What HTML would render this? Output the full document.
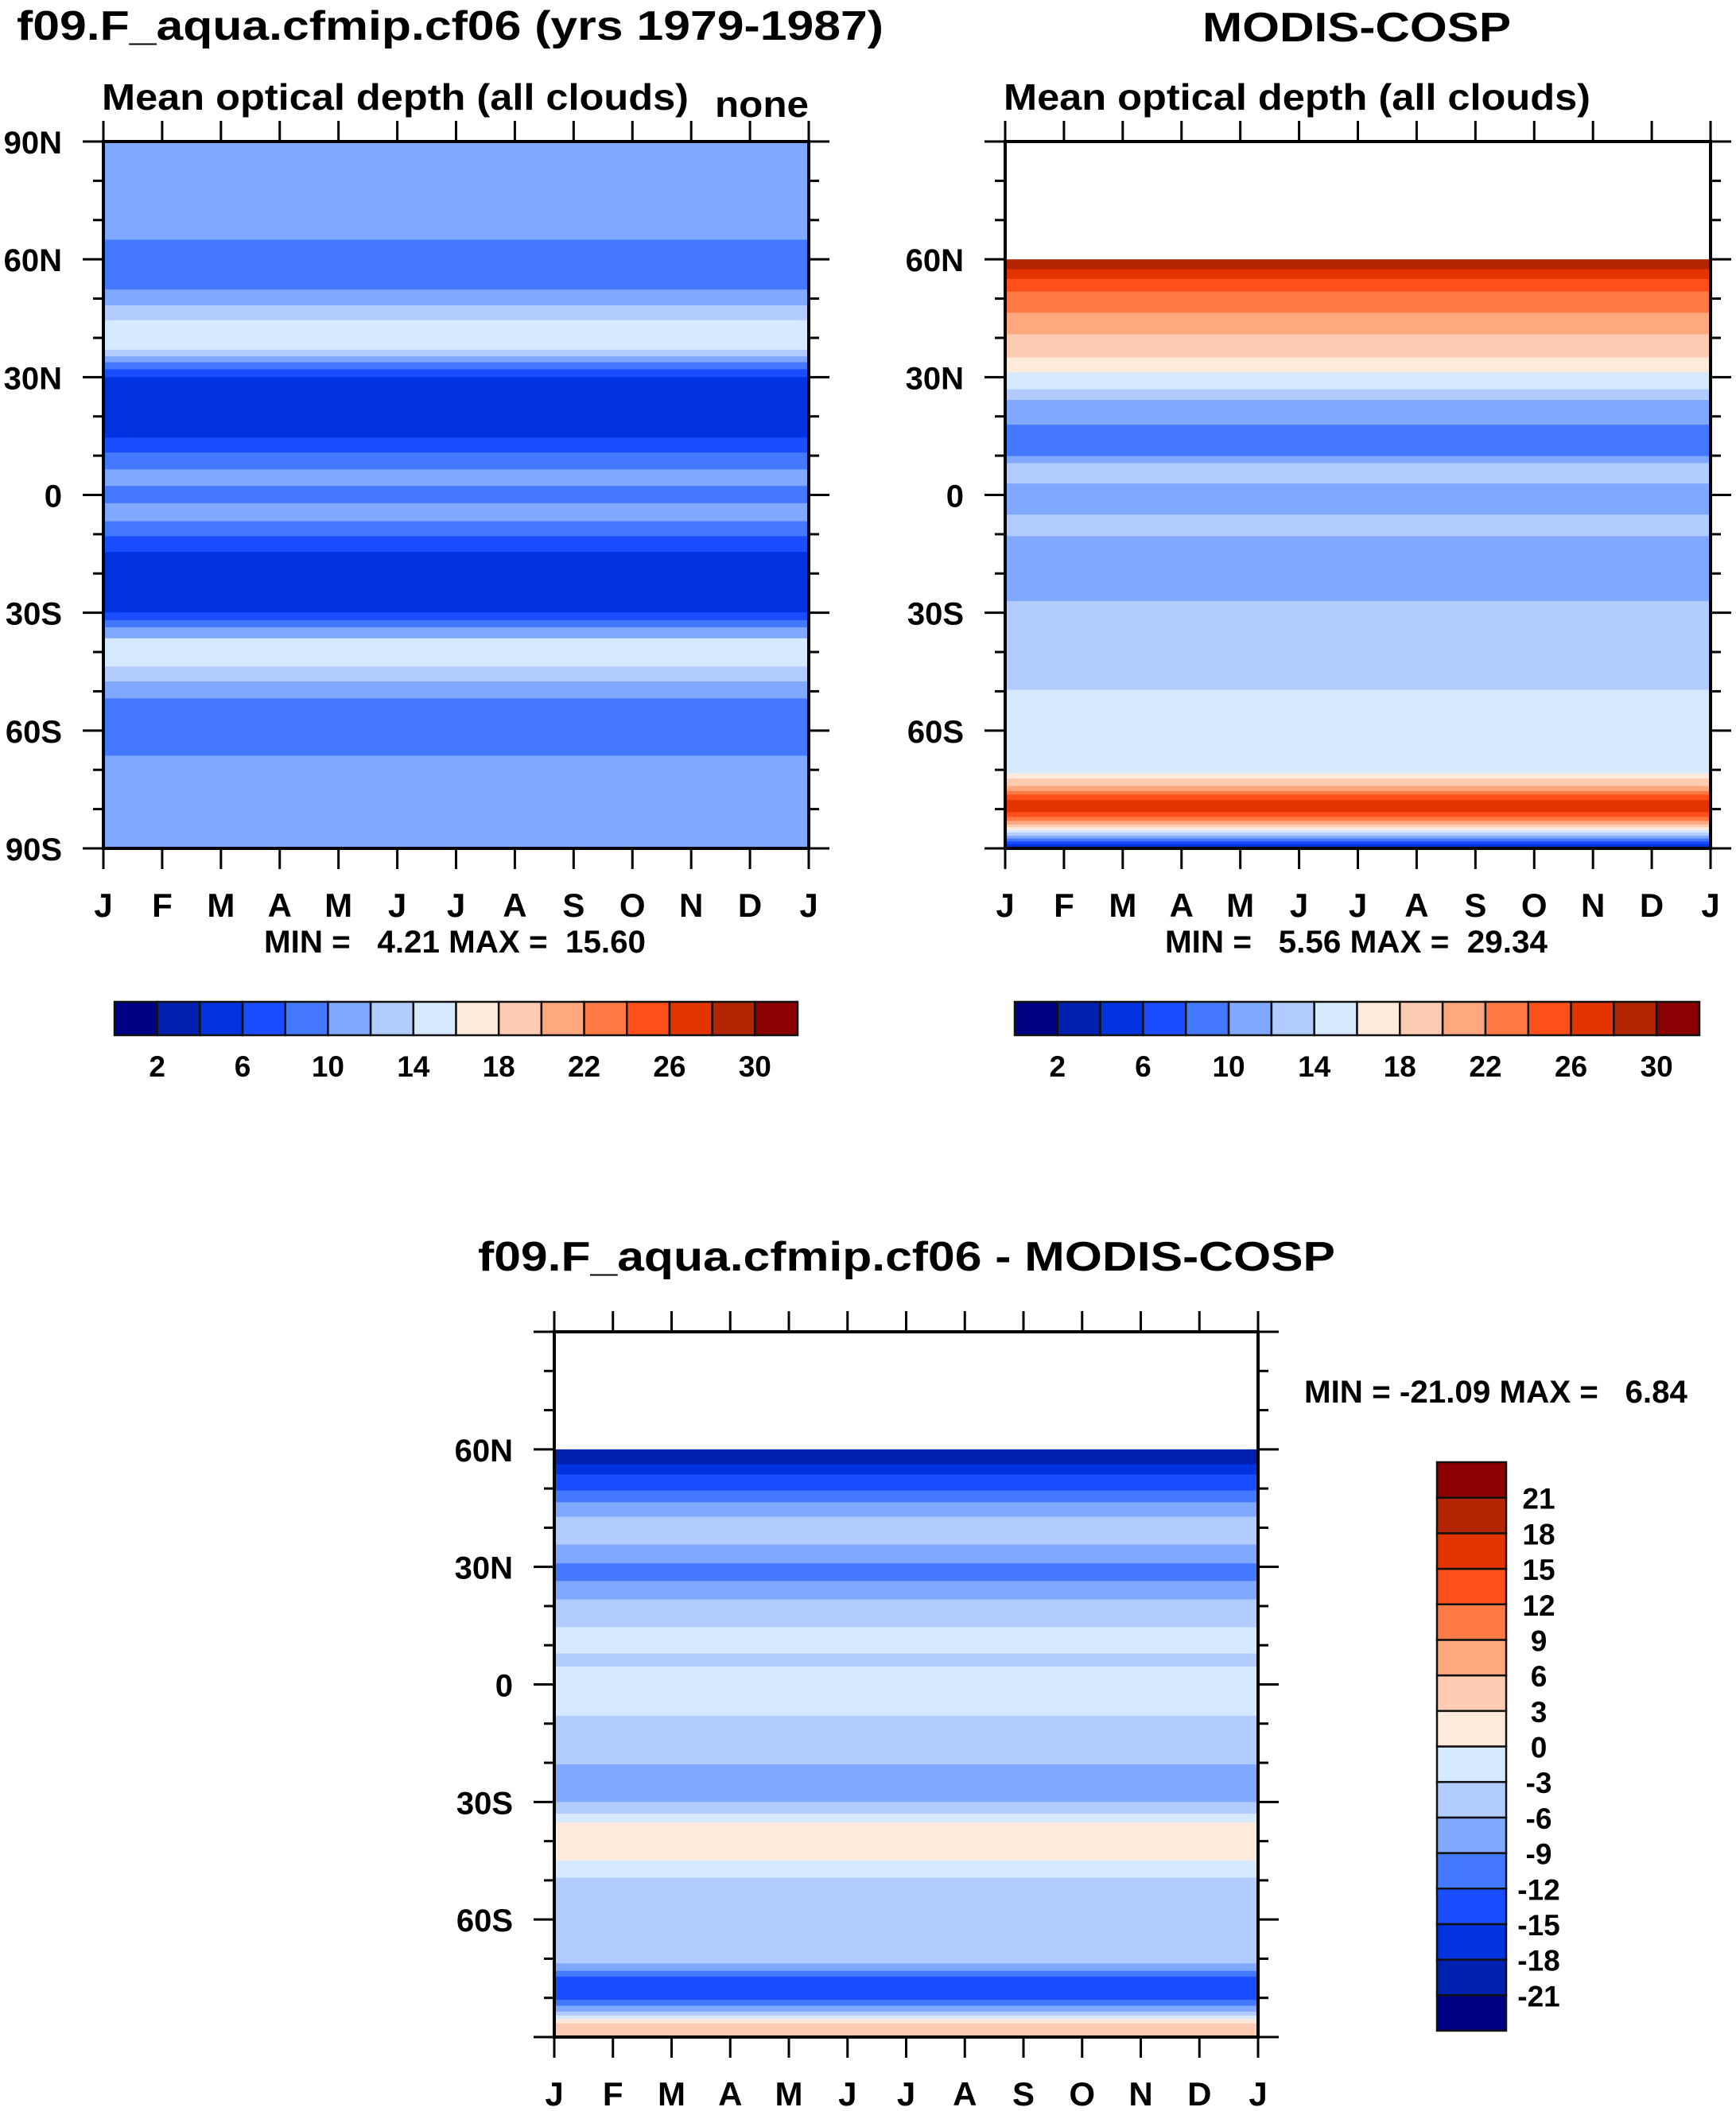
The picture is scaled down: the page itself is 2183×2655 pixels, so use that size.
<!DOCTYPE html>
<html><head><meta charset="utf-8">
<style>
html,body{margin:0;padding:0;background:#fff;}
svg{display:block;font-family:"Liberation Sans",Arial,sans-serif;font-weight:bold;white-space:pre;}
</style></head>
<body>
<svg id="fig" width="2183" height="2655" viewBox="0 0 2183 2655" xmlns="http://www.w3.org/2000/svg"></svg>
<script>
// ---- palette (16 colours) ----
const palette = ["#000085","#0020b0","#0033e0","#1a4dff","#4479ff","#80a8ff","#b3ccff","#d6eaff","#ffeadb","#ffccb3","#ffa880","#ff7a45","#ff4f1a","#e33400","#b32400","#8b0000"];
const levelsAbs = [2,4,6,8,10,12,14,16,18,20,22,24,26,28,30];
const levelsDiff = [-21,-18,-15,-12,-9,-6,-3,0,3,6,9,12,15,18,21];
const cbLabelsAbs = ["2","6","10","14","18","22","26","30"];
const cbLabelsDiff = ["-21","-18","-15","-12","-9","-6","-3","0","3","6","9","12","15","18","21"];
const months = ["J","F","M","A","M","J","J","A","S","O","N","D","J"];
// ---- panel 1: model, band edges (lat, north->south) and values ----
const p1Edges = [90,80,65,52.3,48.3,44.5,37,35.3,33.8,32,30,14.6,10.8,6.5,2.3,-2.1,-6.7,-10.5,-14.5,-29.9,-31.9,-33.7,-36.5,-43.7,-47.5,-51.8,-66.4,-90];
const p1Values = [11.5,11,9,11,13,15,13,11,9,7,5,7,9,11,9,11,9,7,5,7,9,11,15,13,11,9,11];
// ---- panel 2: MODIS ----
const p2Edges = [60,57.5,55,51.8,46.4,40.9,35,31.2,26.9,24.2,17.9,9.9,8.1,2.9,-5,-10.5,-27,-49.6,-70.9,-72.2,-74.1,-75.4,-76.3,-77.7,-80.8,-82,-83,-83.9,-84.6,-85.3,-86,-86.8,-87.5,-88.2,-88.9,-90];
const p2Values = [29,27,25,23,21,19,17,15,13,11,9,11,13,11,13,11,13,15,17,19,21,23,25,27,25,23,21,19,17,15,13,11,9,7,5];
// ---- panel 3: difference ----
const p3Edges = [60,56.2,53.6,49.5,46.5,42.8,35.7,30.9,26.4,21.7,14.6,7.9,4.6,-8,-20.4,-30,-33,-35.2,-44.9,-49.3,-71.2,-73.1,-74.6,-80.5,-82,-83.5,-84.5,-85.4,-86.5,-90];
const p3Values = [-20,-17,-14,-11,-8,-5,-8,-11,-8,-5,-2,-5,-2,-5,-8,-5,-2,1.5,-2,-5,-8,-11,-14,-11,-8,-5,-2,1.5,4.5];

const NS="http://www.w3.org/2000/svg";
const NB="\u00a0";
const svg=document.getElementById('fig');
function el(tag,attrs,parent){const e=document.createElementNS(NS,tag);for(const k in attrs)e.setAttribute(k,attrs[k]);(parent||svg).appendChild(e);return e;}
function txt(s,x,y,size,anchor,parent,len){const t=el('text',{x:x,y:y,'font-size':size,'text-anchor':anchor||'middle',fill:'#000'},parent);if(len){t.setAttribute('textLength',len);t.setAttribute('lengthAdjust','spacingAndGlyphs');}t.textContent=s;return t;}
function colorFor(v,levels){let i=0;while(i<levels.length&&v>=levels[i])i++;return palette[i];}

function panel(name,X0,X1,Y0,Y1,edges,vals,levels,yLabs){
  const g=el('g',{});
  
  
  const ys=lat=>Y0+(90-lat)/180*(Y1-Y0);
  const xs=m=>X0+m/12*(X1-X0);
  for(let i=0;i<vals.length;i++){
    const r=el('rect',{x:X0,y:ys(edges[i]),width:X1-X0,height:ys(edges[i+1])-ys(edges[i])+0.6,fill:colorFor(vals[i],levels)},g);
    
    
  }
  el('rect',{x:X0,y:Y0,width:X1-X0,height:Y1-Y0,fill:'none',stroke:'#000','stroke-width':4},g);
  for(let lat=-90;lat<=90;lat+=10){
    const y=ys(lat);const major=lat%30===0;const L=major?26:13;
    el('line',{x1:X0-L,y1:y,x2:X0,y2:y,stroke:'#000','stroke-width':3},g);
    el('line',{x1:X1,y1:y,x2:X1+L,y2:y,stroke:'#000','stroke-width':3},g);
  }
  for(let m=0;m<=12;m++){
    const x=xs(m);
    el('line',{x1:x,y1:Y0-26,x2:x,y2:Y0,stroke:'#000','stroke-width':3},g);
    el('line',{x1:x,y1:Y1,x2:x,y2:Y1+26,stroke:'#000','stroke-width':3},g);
    const t=txt(months[m],x,Y1+86,42,'middle',g);
    
    
  }
  yLabs.forEach(l=>{const lat=l==="0"?0:(parseInt(l)*(l.endsWith('S')?-1:1));
    const t=txt(l,X0-52,ys(lat)+15,40,'end',g);
    
    });
}
function hbar(name,X0,X1,Y0,Y1,labels,every){
  const g=el('g',{});
  
  
  const w=(X1-X0)/16;
  for(let i=0;i<16;i++){const r=el('rect',{x:X0+i*w,y:Y0,width:w,height:Y1-Y0,fill:palette[i],stroke:'#111','stroke-width':2.5},g);
    
    }
  labels.forEach((l,k)=>{const t=txt(l,X0+(1+k*every)*w,Y1+52,37,'middle',g);
    
    });
}
panel('model-panel',130,1017,178,1067,p1Edges,p1Values,levelsAbs,["90N","60N","30N","0","30S","60S","90S"]);
panel('obs-panel',1264,2151,178,1067,p2Edges,p2Values,levelsAbs,["60N","30N","0","30S","60S"]);
panel('diff-panel',697,1582,1675,2562,p3Edges,p3Values,levelsDiff,["60N","30N","0","30S","60S"]);

let t;
t=txt("f09.F_aqua.cfmip.cf06 (yrs 1979-1987)",566,50,52,'middle',null,1090);

t=txt("MODIS-COSP",1706,52,52,'middle',null,388);

t=txt("Mean optical depth (all clouds)",128,138,46,'start',null,738);

t=txt("none",1017,147,46,'end',null,118);

t=txt("Mean optical depth (all clouds)",1262,138,46,'start',null,738);

t=txt("MIN ="+NB+NB+NB+"4.21 MAX ="+NB+NB+"15.60",332,1198,40,'start',null,480);

t=txt("MIN ="+NB+NB+NB+"5.56 MAX ="+NB+NB+"29.34",1465,1198,40,'start',null,481);

t=txt("f09.F_aqua.cfmip.cf06 - MODIS-COSP",1140,1598,52,'middle',null,1078);

t=txt("MIN = -21.09 MAX ="+NB+NB+NB+"6.84",1640,1764,40,'start',null,482);


hbar('model-colorbar',144,1003,1260,1302,cbLabelsAbs,2);
hbar('obs-colorbar',1276,2137,1260,1302,cbLabelsAbs,2);
(function(){
  const X0=1807,X1=1894,Y0=1839,Y1=2554;
  const g=el('g',{});
  
  
  const h=(Y1-Y0)/16;
  for(let i=0;i<16;i++){const r=el('rect',{x:X0,y:Y1-(i+1)*h,width:X1-X0,height:h,fill:palette[i],stroke:'#111','stroke-width':2.5},g);
    
    }
  cbLabelsDiff.forEach((l,k)=>{const t=txt(l,1935,Y1-(k+1)*h+14,37,'middle',g);
    
    });
})();
</script>
</body></html>
